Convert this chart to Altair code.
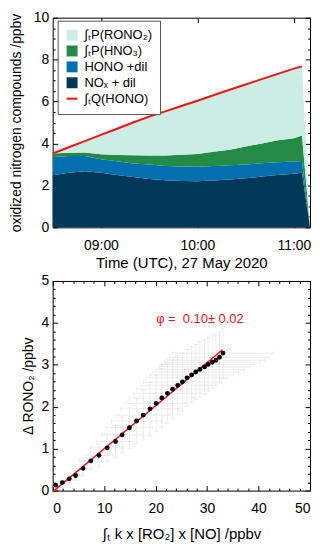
import altair as alt
import pandas as pd

# ---------------- top panel data (stacked contributions, ppbv) ----------------
times = ["08:30", "08:40", "08:50", "09:00", "09:10", "09:20", "09:30", "09:40", "09:50",
         "10:00", "10:10", "10:20", "10:30", "10:40", "10:50", "11:00", "11:05", "11:10"]
nox = [2.48, 2.60, 2.67, 2.60, 2.50, 2.40, 2.30, 2.24, 2.21, 2.20, 2.23, 2.28, 2.34, 2.42, 2.50, 2.55, 2.60, 0.0]
hono = [0.88, 0.80, 0.73, 0.65, 0.65, 0.65, 0.70, 0.69, 0.69, 0.69, 0.70, 0.68, 0.66, 0.64, 0.60, 0.59, 0.56, 0.0]
hno3 = [0.16, 0.16, 0.17, 0.23, 0.30, 0.39, 0.43, 0.50, 0.56, 0.61, 0.67, 0.74, 0.85, 0.94, 1.05, 1.11, 1.22, 0.0]
rono2 = [0.00, 0.26, 0.54, 0.93, 1.25, 1.56, 1.85, 2.10, 2.33, 2.54, 2.70, 2.86, 2.96, 3.07, 3.17, 3.32, 3.30, 0.0]

q_times = ["08:30", "08:40", "08:50", "09:00", "09:10", "09:20", "09:30", "09:40", "09:50",
           "10:00", "10:10", "10:20", "10:30", "10:40", "10:50", "11:00", "11:05"]
q_hono = [3.52, 3.82, 4.11, 4.41, 4.70, 5.00, 5.28, 5.53, 5.79, 6.04, 6.30, 6.56, 6.81, 7.07, 7.32, 7.57, 7.68]

series_labels = ["∫ₜP(RONO₂)", "∫ₜP(HNO₃)", "HONO +dil", "NOₓ + dil", "∫ₜQ(HONO)"]
series_colors = ["#ccece6", "#238b45", "#0570b0", "#023858", "#ff1010"]

# ---------------- bottom panel data ----------------
px = [0.58, 1.87, 3.2, 4.44, 5.9, 7.4, 9.0, 10.6, 12.2, 13.5, 14.9, 16.3, 17.6, 18.9, 20.1,
      21.2, 22.3, 23.3, 24.3, 25.2, 26.1, 27.0, 27.8, 28.6, 29.5, 30.2, 31.0, 31.7, 32.4, 33.1]
py = [0.13, 0.19, 0.28, 0.36, 0.53, 0.71, 0.84, 1.02, 1.17, 1.33, 1.50, 1.66, 1.80, 1.95, 2.08,
      2.21, 2.32, 2.42, 2.51, 2.59, 2.69, 2.76, 2.83, 2.89, 2.95, 3.01, 3.06, 3.11, 3.18, 3.28]
pxerr = [0.17, 0.56, 0.96, 1.33, 1.77, 2.22, 2.7, 3.18, 3.66, 4.05, 4.47, 4.89, 5.28, 5.67, 6.03,
         6.36, 6.69, 6.99, 7.29, 7.56, 7.83, 8.1, 8.34, 8.58, 8.85, 9.06, 9.3, 9.51, 9.72, 9.93]
pyerr = [0.04, 0.06, 0.09, 0.12, 0.17, 0.22, 0.27, 0.33, 0.38, 0.43, 0.49, 0.54, 0.59, 0.63, 0.68,
         0.70, 0.71, 0.71, 0.70, 0.69, 0.68, 0.67, 0.66, 0.66, 0.65, 0.64, 0.63, 0.62, 0.61, 0.60]
fit_x = [0.0, 33.0]
fit_y = [-0.03, 3.36]
phi_text = ["φ =\u00a0\u00a00.10±\u00a00.02"]
phi_pos_x = [20.1]
phi_pos_y = [4.1]


def to_min(s):
    h, m = s.split(":")
    return int(h) * 60 + int(m)


rows = []
for k, (lab, vals) in enumerate([(series_labels[3], nox), (series_labels[2], hono),
                                  (series_labels[1], hno3), (series_labels[0], rono2)]):
    for t, v in zip(times, vals):
        rows.append({"t": to_min(t), "v": v, "series": lab, "k": k})
area_df = pd.DataFrame(rows)
line_df = pd.DataFrame({"t": [to_min(t) for t in q_times], "v": q_hono, "series": series_labels[4]})

pts_df = pd.DataFrame({"x": px, "y": py, "xerr": pxerr, "yerr": pyerr})
fit_df = pd.DataFrame({"x": fit_x, "y": fit_y})
txt_df = pd.DataFrame({"x": phi_pos_x, "y": phi_pos_y, "label": phi_text})

FONT = "Liberation Sans"
TICK = 5
MINOR = 2.5

# ---------------- top panel ----------------
xs_top = alt.Scale(domain=[510, 670], nice=False, zero=False)
ys_top = alt.Scale(domain=[0, 10], nice=False, zero=False)
cscale = alt.Scale(domain=series_labels, range=series_colors)
hhmm = ("(floor(datum.value/60) < 10 ? '0' : '') + floor(datum.value/60) + ':' + "
        "(datum.value % 60 < 10 ? '0' : '') + (datum.value % 60)")
top_major_x = [540, 600, 660]
top_major_y = [0, 2, 4, 6, 8, 10]
top_minor_y = [v / 2 for v in range(0, 21) if v % 4 != 0]

legend = alt.Legend(
    title=None, orient="none", legendX=5, legendY=3,
    fillColor="white", strokeColor="#555555", padding=8,
    labelFont=FONT, labelFontSize=13, labelColor="black",
    symbolSize=121, rowPadding=2, labelOffset=6,
    symbolType={"expr": "datum.value == '∫ₜQ(HONO)' ? 'stroke' : 'square'"},
    symbolStrokeColor="#ff1010",
    symbolStrokeWidth={"expr": "datum.value == '∫ₜQ(HONO)' ? 2 : 0"},
)

areas = alt.Chart(area_df).mark_area(opacity=1, interpolate="linear").encode(
    x=alt.X("t:Q", scale=xs_top, axis=alt.Axis(
        orient="bottom", values=top_major_x, labelExpr=hhmm, title="Time (UTC), 27 May 2020",
        offset=-TICK, tickSize=TICK, labelPadding=11, titlePadding=3, titleFontSize=15)),
    y=alt.Y("v:Q", stack="zero", scale=ys_top, axis=alt.Axis(
        orient="left", values=top_major_y, title="oxidized nitrogen compounds /ppbv",
        offset=-TICK, tickSize=TICK, labelPadding=4, titlePadding=10)),
    color=alt.Color("series:N", scale=cscale, legend=legend),
    order=alt.Order("k:Q", sort="ascending"),
)

qline = alt.Chart(line_df).mark_line(strokeWidth=2).encode(
    x=alt.X("t:Q", scale=xs_top, axis=alt.Axis(
        orient="top", values=top_major_x, labels=False, title="", offset=-TICK, tickSize=TICK)),
    y=alt.Y("v:Q", scale=ys_top, axis=alt.Axis(
        orient="right", values=top_major_y, labels=False, title="", offset=-TICK, tickSize=TICK)),
    color=alt.Color("series:N", scale=cscale, legend=legend),
)

top_minor_l = alt.Chart(line_df).mark_line(opacity=0).encode(
    x=alt.X("t:Q", scale=xs_top, axis=None),
    y=alt.Y("v:Q", scale=ys_top, axis=alt.Axis(
        orient="left", values=top_minor_y, labels=False, title="", offset=-MINOR, tickSize=MINOR)),
)
top_minor_r = alt.Chart(line_df).mark_line(opacity=0).encode(
    x=alt.X("t:Q", scale=xs_top, axis=None),
    y=alt.Y("v:Q", scale=ys_top, axis=alt.Axis(
        orient="right", values=top_minor_y, labels=False, title="", offset=-MINOR, tickSize=MINOR)),
)

top = alt.layer(areas, qline, top_minor_l, top_minor_r).resolve_axis(
    x="independent", y="independent").properties(width=259, height=211)

# ---------------- bottom panel ----------------
xs_b = alt.Scale(domain=[0, 50], nice=False, zero=False)
ys_b = alt.Scale(domain=[0, 5], nice=False, zero=False)
b_major_x = [0, 10, 20, 30, 40, 50]
b_major_y = [0, 1, 2, 3, 4, 5]
b_minor_x = [v for v in range(0, 51, 2) if v % 10 != 0]
b_minor_y = [v / 5 for v in range(0, 26) if v % 5 != 0]

GRAY = "#e3e3e3"
xerr_bars = alt.Chart(pts_df).mark_errorbar(ticks=True, color=GRAY, thickness=0.7, size=5).encode(
    x=alt.X("x:Q", scale=xs_b, axis=None, title=""),
    xError="xerr:Q",
    y=alt.Y("y:Q", scale=ys_b, axis=None),
)
yerr_bars = alt.Chart(pts_df).mark_errorbar(ticks=True, color=GRAY, thickness=0.7, size=5).encode(
    y=alt.Y("y:Q", scale=ys_b, axis=None, title=""),
    yError="yerr:Q",
    x=alt.X("x:Q", scale=xs_b, axis=None),
)
fit = alt.Chart(fit_df).mark_line(color="#ff1010", strokeWidth=1.5).encode(
    x=alt.X("x:Q", scale=xs_b, axis=alt.Axis(
        orient="top", values=b_major_x, labels=False, title="", offset=-TICK, tickSize=TICK)),
    y=alt.Y("y:Q", scale=ys_b, axis=alt.Axis(
        orient="right", values=b_major_y, labels=False, title="", offset=-TICK, tickSize=TICK)),
)
points = alt.Chart(pts_df).mark_circle(color="black", opacity=1, size=24).encode(
    x=alt.X("x:Q", scale=xs_b, axis=alt.Axis(
        orient="bottom", values=b_major_x, title="∫ₜ k x [RO₂] x [NO] /ppbv",
        offset=-TICK, tickSize=TICK, labelPadding=11, titlePadding=11, titleFontSize=15)),
    y=alt.Y("y:Q", scale=ys_b, axis=alt.Axis(
        orient="left", values=b_major_y, title="Δ RONO₂ /ppbv",
        offset=-TICK, tickSize=TICK, labelPadding=4, titlePadding=6)),
)
phi = alt.Chart(txt_df).mark_text(align="left", baseline="middle", color="#ff1010",
                                  fontSize=13, font=FONT).encode(
    x=alt.X("x:Q", scale=xs_b, axis=None),
    y=alt.Y("y:Q", scale=ys_b, axis=None),
    text="label:N",
)
b_minor_bl = alt.Chart(pts_df).mark_point(opacity=0).encode(
    x=alt.X("x:Q", scale=xs_b, axis=alt.Axis(
        orient="bottom", values=b_minor_x, labels=False, title="", offset=-MINOR, tickSize=MINOR)),
    y=alt.Y("y:Q", scale=ys_b, axis=alt.Axis(
        orient="left", values=b_minor_y, labels=False, title="", offset=-MINOR, tickSize=MINOR)),
)
b_minor_tr = alt.Chart(pts_df).mark_point(opacity=0).encode(
    x=alt.X("x:Q", scale=xs_b, axis=alt.Axis(
        orient="top", values=b_minor_x, labels=False, title="", offset=-MINOR, tickSize=MINOR)),
    y=alt.Y("y:Q", scale=ys_b, axis=alt.Axis(
        orient="right", values=b_minor_y, labels=False, title="", offset=-MINOR, tickSize=MINOR)),
)

bottom = alt.layer(xerr_bars, yerr_bars, fit, points, phi, b_minor_bl, b_minor_tr).resolve_axis(
    x="independent", y="independent").properties(width=259, height=211)

chart = alt.vconcat(top, bottom, spacing=2).properties(
    padding={"left": 0, "top": 0, "right": 0, "bottom": 0}
).configure(font=FONT).configure_view(
    stroke="black", strokeWidth=1
).configure_axis(
    domain=False, grid=False, labelFont=FONT, titleFont=FONT, labelFontSize=14, titleFontSize=14,
    titleFontWeight="normal", labelColor="black", titleColor="black", tickColor="black", tickWidth=1,
)

chart.save("out.html", embed_options={"renderer": "svg", "actions": False})
